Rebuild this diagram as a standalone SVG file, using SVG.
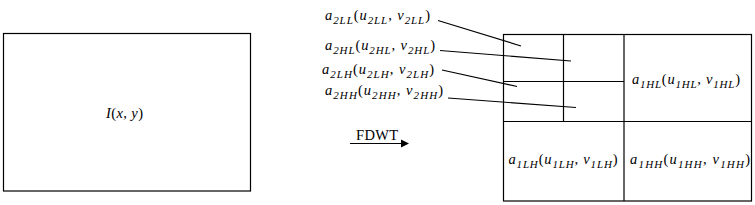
<svg xmlns="http://www.w3.org/2000/svg" width="755" height="205" viewBox="0 0 755 205">
<style>
.box{fill:none;stroke:#000;stroke-width:1.2}
.ln{stroke:#000;stroke-width:1.2;fill:none}
.t{font-family:"Liberation Serif","Times New Roman",serif;font-size:14.5px;fill:#000}
.i{font-style:italic}
.s{font-style:italic;font-size:11px}
</style>
<rect width="755" height="205" fill="#fff"/>
<g id="image">
<rect class="box" x="3.5" y="33.5" width="247" height="157.5"/>
<text class="t" x="106" y="118" font-size="15" textLength="37" lengthAdjust="spacing"><tspan class="i">I</tspan>(<tspan class="i">x</tspan>, <tspan class="i">y</tspan>)</text>
</g>
<g id="subbands">
<rect class="box" x="503.5" y="34.5" width="248" height="166.5"/>
<line class="ln" x1="624" y1="34.5" x2="624" y2="201"/>
<line class="ln" x1="503.5" y1="121.5" x2="751.5" y2="121.5"/>
<line class="ln" x1="563.5" y1="34.5" x2="563.5" y2="121.5"/>
<line class="ln" x1="503.5" y1="81.5" x2="624" y2="81.5"/>
</g>
<g id="a1HL">
<text class="t" x="632" y="84" textLength="108" lengthAdjust="spacing"><tspan class="i">a</tspan><tspan class="s" dy="4">1HL</tspan><tspan dy="-4">(</tspan><tspan class="i">u</tspan><tspan class="s" dy="4">1HL</tspan><tspan dy="-4">, </tspan><tspan class="i">v</tspan><tspan class="s" dy="4">1HL</tspan><tspan dy="-4">)</tspan></text>
</g>
<g id="a1LH">
<text class="t" x="508.5" y="164" textLength="109" lengthAdjust="spacing"><tspan class="i">a</tspan><tspan class="s" dy="4">1LH</tspan><tspan dy="-4">(</tspan><tspan class="i">u</tspan><tspan class="s" dy="4">1LH</tspan><tspan dy="-4">, </tspan><tspan class="i">v</tspan><tspan class="s" dy="4">1LH</tspan><tspan dy="-4">)</tspan></text>
</g>
<g id="a1HH">
<text class="t" x="630" y="164" textLength="120" lengthAdjust="spacing"><tspan class="i">a</tspan><tspan class="s" dy="4">1HH</tspan><tspan dy="-4">(</tspan><tspan class="i">u</tspan><tspan class="s" dy="4">1HH</tspan><tspan dy="-4">, </tspan><tspan class="i">v</tspan><tspan class="s" dy="4">1HH</tspan><tspan dy="-4">)</tspan></text>
</g>
<g id="a2LL">
<text class="t" x="325" y="20" textLength="105" lengthAdjust="spacing"><tspan class="i">a</tspan><tspan class="s" dy="4">2LL</tspan><tspan dy="-4">(</tspan><tspan class="i">u</tspan><tspan class="s" dy="4">2LL</tspan><tspan dy="-4">, </tspan><tspan class="i">v</tspan><tspan class="s" dy="4">2LL</tspan><tspan dy="-4">)</tspan></text>
</g>
<g id="a2HL">
<text class="t" x="325" y="50" textLength="110" lengthAdjust="spacing"><tspan class="i">a</tspan><tspan class="s" dy="4">2HL</tspan><tspan dy="-4">(</tspan><tspan class="i">u</tspan><tspan class="s" dy="4">2HL</tspan><tspan dy="-4">, </tspan><tspan class="i">v</tspan><tspan class="s" dy="4">2HL</tspan><tspan dy="-4">)</tspan></text>
</g>
<g id="a2LH">
<text class="t" x="322" y="74" textLength="112" lengthAdjust="spacing"><tspan class="i">a</tspan><tspan class="s" dy="4">2LH</tspan><tspan dy="-4">(</tspan><tspan class="i">u</tspan><tspan class="s" dy="4">2LH</tspan><tspan dy="-4">, </tspan><tspan class="i">v</tspan><tspan class="s" dy="4">2LH</tspan><tspan dy="-4">)</tspan></text>
</g>
<g id="a2HH">
<text class="t" x="325" y="95" textLength="118" lengthAdjust="spacing"><tspan class="i">a</tspan><tspan class="s" dy="4">2HH</tspan><tspan dy="-4">(</tspan><tspan class="i">u</tspan><tspan class="s" dy="4">2HH</tspan><tspan dy="-4">, </tspan><tspan class="i">v</tspan><tspan class="s" dy="4">2HH</tspan><tspan dy="-4">)</tspan></text>
</g>
<g id="fdwt-label">
<text class="t" x="356" y="139.5" font-size="15.5" textLength="42" lengthAdjust="spacing">FDWT</text>
</g>
<g id="connectors">
<line class="ln" x1="438" y1="20.5" x2="521" y2="46"/>
<line class="ln" x1="440" y1="50.5" x2="571" y2="61"/>
<line class="ln" x1="442" y1="70" x2="517" y2="86.5"/>
<line class="ln" x1="448" y1="98" x2="576" y2="107.5"/>
<line class="ln" x1="350" y1="143.5" x2="402" y2="143.5"/>
<polygon points="401,139.5 409,143.5 401,147.5" fill="#000"/>
</g>
</svg>
